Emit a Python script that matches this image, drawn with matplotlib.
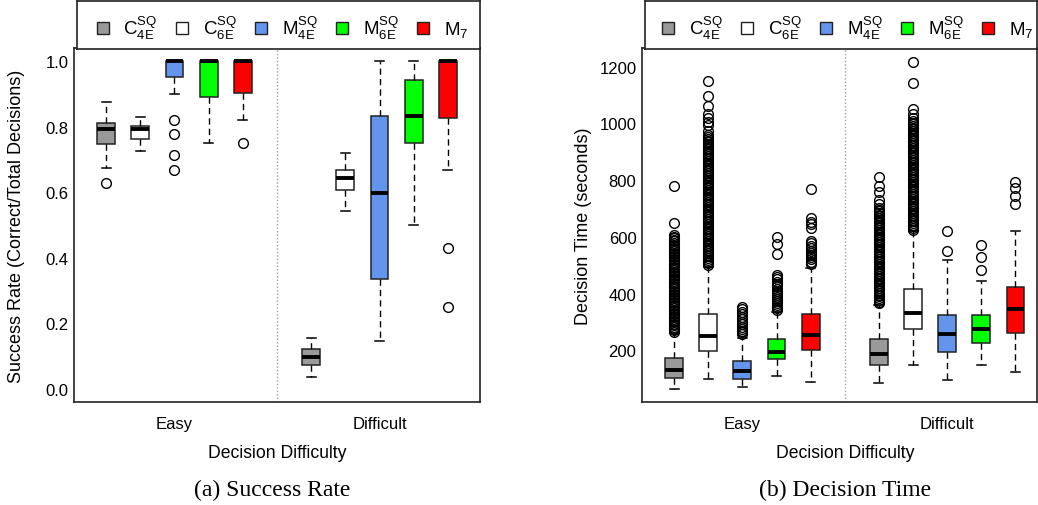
import matplotlib.pyplot as plt
from matplotlib.lines import Line2D

plt.rcParams['font.family'] = 'Liberation Sans'
plt.rcParams['mathtext.fontset'] = 'custom'
plt.rcParams['mathtext.rm'] = 'Liberation Sans'
plt.rcParams['mathtext.it'] = 'Liberation Sans:italic'

methods = [r'C$^{\mathrm{SQ}}_{\mathrm{4E}}$', r'C$^{\mathrm{SQ}}_{\mathrm{6E}}$',
           r'M$^{\mathrm{SQ}}_{\mathrm{4E}}$', r'M$^{\mathrm{SQ}}_{\mathrm{6E}}$',
           r'M$_{\mathrm{7}}$']
colors = ['#999999', 'white', '#6495ED', '#00FF00', '#FF0000']
difficulty = ['Easy', 'Difficult']

# success rate, Easy (5 methods) then Difficult (5 methods)
sr_lo = [0.673, 0.727, 0.899, 0.749, 0.819, 0.037, 0.543, 0.145, 0.500, 0.667]
sr_q1 = [0.748, 0.763, 0.953, 0.889, 0.903, 0.074, 0.607, 0.334, 0.749, 0.827]
sr_med = [0.794, 0.792, 1.000, 1.000, 1.000, 0.097, 0.642, 0.597, 0.833, 1.000]
sr_q3 = [0.812, 0.802, 1.000, 1.000, 1.000, 0.122, 0.669, 0.833, 0.943, 1.000]
sr_hi = [0.875, 0.830, 1.000, 1.000, 1.000, 0.155, 0.720, 1.000, 1.000, 1.000]
sr_out = [[0.629], [], [0.820, 0.778, 0.714, 0.667], [], [0.749],
          [], [], [], [], [0.430, 0.251]]

# decision time in seconds
dt_lo = [63, 99, 72, 109, 89, 86, 148, 95, 148, 125]
dt_q1 = [101, 199, 98, 168, 201, 148, 275, 195, 227, 262]
dt_med = [130, 250, 127, 195, 254, 187, 333, 256, 275, 346]
dt_q3 = [174, 327, 162, 239, 327, 240, 416, 325, 325, 422]
dt_hi = [260, 495, 245, 337, 489, 360, 620, 517, 445, 622]
dt_out = [
    [266, 271, 277, 282, 288, 293, 299, 304, 310, 316, 321, 327, 332, 338,
     344, 349, 355, 360, 366, 372, 377, 383, 388, 394, 400, 405, 411, 416,
     422, 428, 433, 439, 444, 450, 456, 461, 467, 472, 478, 484, 489, 495,
     500, 506, 512, 517, 523, 528, 534, 540, 545, 551, 556, 562, 568, 573,
     579, 584, 590, 596, 601, 607, 648, 778],
    [501, 507, 513, 519, 525, 531, 537, 543, 549, 555, 561, 567, 573, 579,
     585, 591, 597, 603, 609, 615, 621, 627, 633, 639, 645, 651, 657, 663,
     669, 675, 681, 687, 693, 699, 705, 711, 717, 723, 729, 735, 741, 747,
     753, 759, 765, 771, 777, 783, 789, 795, 801, 807, 813, 819, 825, 831,
     837, 843, 849, 855, 861, 867, 873, 879, 885, 891, 897, 903, 909, 915,
     921, 927, 933, 939, 945, 951, 958, 972, 993, 1005, 1020, 1035, 1060,
     1098, 1148],
    [258, 264, 270, 277, 284, 292, 300, 310, 318, 327, 337, 345, 354],
    [342, 348, 354, 360, 367, 374, 381, 388, 395, 402, 410, 418, 426, 434,
     442, 450, 458, 466, 540, 574, 598],
    [505, 513, 521, 529, 536, 545, 552, 560, 568, 577, 584, 631, 645, 654,
     666, 768],
    [366, 372, 378, 384, 390, 396, 402, 408, 414, 420, 426, 432, 438, 444,
     450, 456, 462, 468, 474, 480, 486, 492, 498, 504, 510, 516, 522, 528,
     534, 540, 546, 552, 558, 564, 570, 576, 582, 588, 594, 600, 606, 612,
     618, 624, 630, 636, 642, 648, 654, 660, 666, 672, 678, 684, 690, 696,
     701, 715, 731, 757, 780, 811],
    [625, 631, 637, 643, 649, 655, 661, 667, 673, 679, 685, 691, 697, 703,
     709, 715, 721, 727, 733, 739, 745, 751, 757, 763, 769, 775, 781, 787,
     793, 799, 805, 811, 817, 823, 829, 835, 841, 847, 853, 859, 865, 871,
     877, 883, 889, 895, 901, 907, 913, 919, 925, 931, 937, 943, 949, 955,
     961, 967, 973, 979, 985, 991, 997, 1003, 1007, 1020, 1033, 1051, 1142,
     1218],
    [552, 621],
    [483, 528, 572],
    [716, 745, 772, 795],
]


def draw_panel(ax, lo, q1, med, q3, hi, out):
    stats = []
    for i in range(len(med)):
        stats.append({'whislo': lo[i], 'q1': q1[i], 'med': med[i],
                      'q3': q3[i], 'whishi': hi[i], 'fliers': out[i]})
    pos = [1 + g * 6 + m for g in range(2) for m in range(5)]
    bp = ax.bxp(stats, positions=pos, widths=0.52, patch_artist=True,
                manage_ticks=False,
                boxprops=dict(edgecolor='#222222', linewidth=1.1),
                medianprops=dict(color='black', linewidth=2.8,
                                 solid_capstyle='butt'),
                whiskerprops=dict(color='black', linewidth=1.0,
                                  linestyle=(0, (4.5, 3))),
                capprops=dict(color='black', linewidth=1.1),
                flierprops=dict(marker='o', markersize=7,
                                markerfacecolor='none',
                                markeredgecolor='black',
                                markeredgewidth=1.0))
    for i, patch in enumerate(bp['boxes']):
        patch.set_facecolor(colors[i % 5])
    ax.axvline(6, color='#a0a0a0', linestyle=(0, (1, 1.5)), linewidth=1.0)
    ax.set_xticks([3, 9])
    ax.set_xticklabels(difficulty)
    ax.tick_params(axis='both', length=0, labelsize=12)
    ax.tick_params(axis='x', pad=10)
    ax.tick_params(axis='y', pad=4)
    for s in ax.spines.values():
        s.set_linewidth(1.2)
        s.set_color('#222222')
    ax.set_xlabel('Decision Difficulty', fontsize=12.7)


def draw_legend(lax, cx):
    lax.set_xticks([])
    lax.set_yticks([])
    for s in lax.spines.values():
        s.set_linewidth(1.2)
        s.set_color('#222222')
    handles = [Line2D([], [], marker='s', linestyle='none', markersize=9,
                      markerfacecolor=c, markeredgecolor='#222222',
                      markeredgewidth=1.0) for c in colors]
    lax.legend(handles, methods, loc='center', bbox_to_anchor=(cx, 0.45),
               ncol=5, frameon=False, fontsize=13.5, handlelength=1.0,
               handletextpad=0.6, columnspacing=0.8)


W, H = 1038, 506
fig = plt.figure(figsize=(W / 100, H / 100), dpi=100)

ax1 = fig.add_axes([74 / W, 1 - 403 / H, 406 / W, 354 / H])
draw_panel(ax1, sr_lo, sr_q1, sr_med, sr_q3, sr_hi, sr_out)
ax1.set_xlim(0.06, 11.94)
ax1.set_ylim(-0.04, 1.04)
ax1.set_yticks([0.0, 0.2, 0.4, 0.6, 0.8, 1.0])
ax1.set_yticklabels(['0.0', '0.2', '0.4', '0.6', '0.8', '1.0'])
ax1.set_ylabel('Success Rate (Correct/Total Decisions)', fontsize=13)
ax1.yaxis.set_label_coords(-0.12, 0.5)
ax1.xaxis.set_label_coords(0.5, -0.12)

ax2 = fig.add_axes([642 / W, 1 - 403 / H, 395 / W, 354 / H])
draw_panel(ax2, dt_lo, dt_q1, dt_med, dt_q3, dt_hi, dt_out)
ax2.set_xlim(0.06, 11.63)
ax2.set_ylim(18, 1266)
ax2.set_yticks([200, 400, 600, 800, 1000, 1200])
ax2.set_ylabel('Decision Time (seconds)', fontsize=13)
ax2.yaxis.set_label_coords(-0.127, 0.5)
ax2.xaxis.set_label_coords(0.514, -0.12)

lax1 = fig.add_axes([77 / W, 1 - 50 / H, 403 / W, 48 / H])
draw_legend(lax1, 0.506)
lax2 = fig.add_axes([645 / W, 1 - 50 / H, 392 / W, 48 / H])
draw_legend(lax2, 0.513)

fig.text(272 / W, 1 - 490 / H, '(a) Success Rate', ha='center', va='center',
         family='Liberation Serif', fontsize=17)
fig.text(845 / W, 1 - 490 / H, '(b) Decision Time', ha='center', va='center',
         family='Liberation Serif', fontsize=17)

fig.savefig('out.png', dpi=100)
